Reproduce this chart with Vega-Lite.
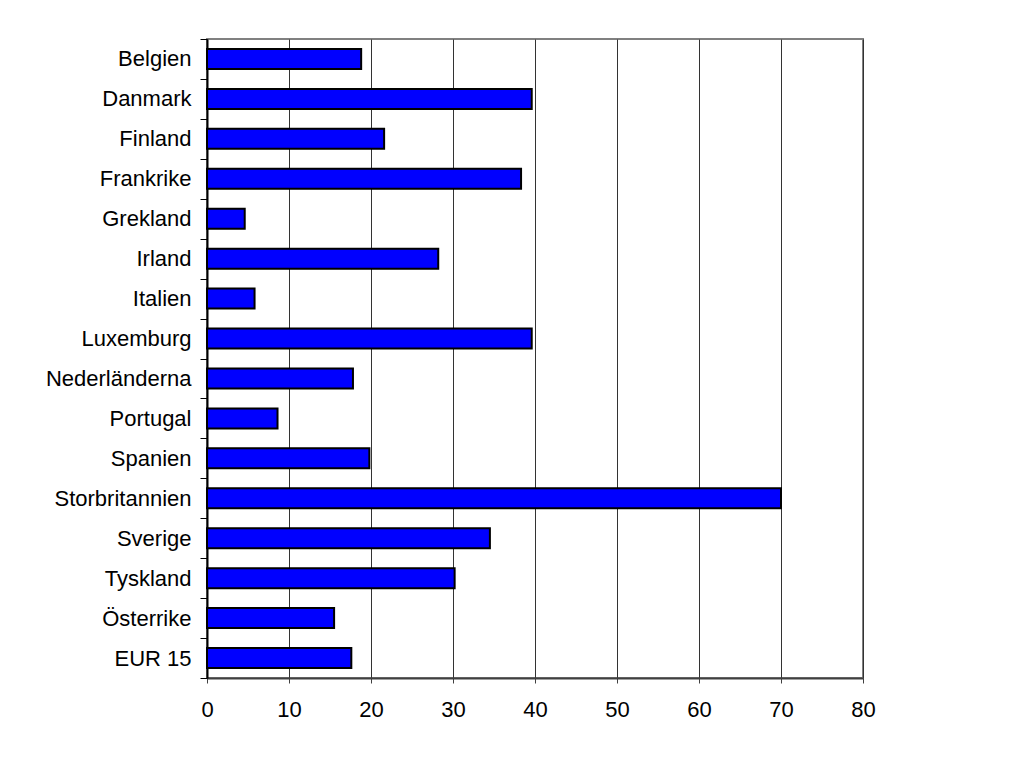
{
  "$schema": "https://vega.github.io/schema/vega-lite/v6.json",
  "autosize": "none",
  "width": 656,
  "height": 639,
  "padding": {"left": 207, "top": 39, "right": 158, "bottom": 82},
  "background": "white",
  "data": {
    "values": [
      {"land": "Belgien", "varde": 18.8},
      {"land": "Danmark", "varde": 39.6},
      {"land": "Finland", "varde": 21.6},
      {"land": "Frankrike", "varde": 38.3},
      {"land": "Grekland", "varde": 4.6},
      {"land": "Irland", "varde": 28.2},
      {"land": "Italien", "varde": 5.8},
      {"land": "Luxemburg", "varde": 39.6},
      {"land": "Nederländerna", "varde": 17.8},
      {"land": "Portugal", "varde": 8.6},
      {"land": "Spanien", "varde": 19.8},
      {"land": "Storbritannien", "varde": 70.0},
      {"land": "Sverige", "varde": 34.5},
      {"land": "Tyskland", "varde": 30.2},
      {"land": "Österrike", "varde": 15.5},
      {"land": "EUR 15", "varde": 17.6}
    ]
  },
  "mark": {"type": "bar", "fill": "#0000FF", "stroke": "#000000", "strokeWidth": 2, "height": {"band": 0.5}},
  "encoding": {
    "y": {
      "field": "land",
      "type": "nominal",
      "sort": null,
      "scale": {"paddingInner": 0, "paddingOuter": 0},
      "axis": {
        "title": null,
        "domainColor": "#000000",
        "domainWidth": 2,
        "tickBand": "extent",
        "tickColor": "#000000",
        "tickWidth": 1,
        "tickSize": 7,
        "labelPadding": 9,
        "labelFont": "Liberation Sans",
        "labelFontSize": 22,
        "labelColor": "#000000",
        "grid": false
      }
    },
    "x": {
      "field": "varde",
      "type": "quantitative",
      "scale": {"domain": [0, 80], "nice": false},
      "axis": {
        "title": null,
        "values": [0, 10, 20, 30, 40, 50, 60, 70, 80],
        "domainColor": "#404040",
        "domainWidth": 2,
        "tickColor": "#404040",
        "tickSize": 5,
        "tickWidth": 1,
        "labelPadding": 16,
        "labelFlush": false,
        "labelFont": "Liberation Sans",
        "labelFontSize": 22,
        "labelColor": "#000000",
        "grid": true,
        "gridColor": "#333333",
        "gridWidth": 1,
        "gridOpacity": 1
      }
    }
  },
  "config": {
    "view": {"stroke": "#808080", "strokeWidth": 2}
  }
}
